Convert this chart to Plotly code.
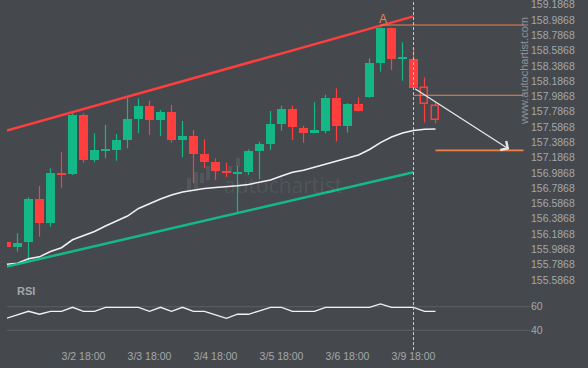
import plotly.graph_objects as go

# ---------------- data ----------------
idx = list(range(40))
opens = [156.083, 156.022, 156.087, 156.645, 156.335, 156.986, 156.976, 157.744, 157.156, 157.286,
         157.286, 157.417, 157.692, 157.862, 157.683, 157.783, 157.417, 157.469, 157.234, 157.133,
         157.014, 156.983, 157.003, 157.273, 157.365, 157.626, 157.823, 157.574, 157.513, 157.535,
         157.970, 157.604, 157.888, 157.976, 158.428, 158.886, 158.479, 158.474, 158.093, 157.866]
highs = [156.090, 156.197, 156.668, 156.815, 157.047, 157.260, 157.774, 157.766, 157.505, 157.613,
         157.496, 157.963, 157.963, 157.931, 157.810, 157.875, 157.666, 157.548, 157.426, 157.178,
         157.120, 157.077, 157.296, 157.395, 157.796, 157.866, 157.866, 157.603, 157.910, 158.011,
         158.093, 157.900, 157.976, 158.486, 158.921, 158.890, 158.695, 158.623, 158.235, 157.905]
lows = [156.022, 155.956, 155.825, 156.152, 156.283, 156.793, 156.959, 157.120, 157.125, 157.178,
        157.146, 157.309, 157.505, 157.483, 157.469, 157.382, 157.191, 156.855, 157.047, 156.894,
        156.933, 156.458, 156.959, 156.903, 157.286, 157.539, 157.417, 157.382, 157.513, 157.505,
        157.398, 157.513, 157.790, 157.967, 158.311, 158.333, 158.193, 158.101, 157.646, 157.636]
closes = [156.022, 156.070, 156.645, 156.335, 156.986, 156.966, 157.744, 157.156, 157.286, 157.302,
          157.417, 157.692, 157.862, 157.683, 157.783, 157.417, 157.469, 157.234, 157.133, 157.014,
          156.992, 156.998, 157.273, 157.365, 157.626, 157.823, 157.591, 157.511, 157.548, 157.970,
          157.604, 157.888, 157.796, 158.422, 158.886, 158.477, 158.492, 158.101, 157.884, 157.685]
hollow = [False] * 38 + [True, True]

ma = [155.791, 155.806, 155.863, 155.889, 155.959, 156.008, 156.112, 156.161, 156.220, 156.292,
      156.360, 156.423, 156.521, 156.587, 156.645, 156.698, 156.737, 156.759, 156.783, 156.796,
      156.805, 156.818, 156.836, 156.861, 156.894, 156.946, 156.995, 157.022, 157.061, 157.097,
      157.133, 157.175, 157.221, 157.293, 157.384, 157.456, 157.509, 157.541, 157.557, 157.561]

rsi = [50.2, 53.1, 56.1, 53.6, 56.1, 56.1, 59.5, 56.1, 56.1, 59.5,
       59.5, 59.5, 59.5, 56.1, 59.5, 56.1, 59.5, 56.1, 56.1, 53.1,
       50.2, 53.6, 53.6, 56.5, 59.5, 59.5, 56.1, 56.1, 56.1, 59.5,
       59.5, 59.5, 59.5, 59.5, 62.3, 59.5, 59.5, 59.5, 56.1, 56.1]

upper_x = [0, 37]
upper_y = [157.539, 159.034]
lower_x = [0, 37]
lower_y = [155.760, 156.995]

level_start = [34, 37, 39]
level_end = [47, 47, 47]
level_price = [158.921, 158.002, 157.282]

arrow_from = (37, 158.101)
arrow_to = (45.7, 157.296)
now_index = 37
pattern_label = ("A", 34.2, 159.0)

price_ticks = [159.1868 - 0.2 * k for k in range(19)]
x_tickvals = [7, 13, 19, 25, 31, 37]
x_ticktext = ["3/2 18:00", "3/3 18:00", "3/4 18:00", "3/5 18:00", "3/6 18:00", "3/9 18:00"]

# ---------------- style ----------------
BG = "#45494e"
GREEN = "#13b886"
RED = "#ff3e3e"
TEXT = "#a3a7ab"
ORANGE = "#f0824a"
FONT = "Liberation Sans, Arial, sans-serif"

fig = go.Figure()

# wicks
for col, cond in ((GREEN, lambda o, c: c >= o), (RED, lambda o, c: c < o)):
    wx, wy = [], []
    for i, o, h, l, c in zip(idx, opens, highs, lows, closes):
        if cond(o, c):
            top, bot = max(o, c), min(o, c)
            wx += [i, i, None, i, i, None]
            wy += [h, top, None, bot, l, None]
    fig.add_trace(go.Scatter(x=wx, y=wy, mode="lines", line=dict(color=col, width=1.2),
                             hoverinfo="skip", showlegend=False))

# bodies
def body(sel):
    xs = [i for i, s in zip(idx, sel) if s]
    base = [min(opens[i], closes[i]) for i in xs]
    hgt = [max(abs(closes[i] - opens[i]), 0.012) for i in xs]
    return xs, base, hgt

g_sel = [c >= o and not h for o, c, h in zip(opens, closes, hollow)]
r_sel = [c < o and not h for o, c, h in zip(opens, closes, hollow)]
x1, b1, h1 = body(g_sel)
fig.add_trace(go.Bar(x=x1, y=h1, base=b1, width=0.79, marker=dict(color=GREEN, line=dict(width=0)),
                     showlegend=False, hoverinfo="skip"))
x2, b2, h2 = body(r_sel)
fig.add_trace(go.Bar(x=x2, y=h2, base=b2, width=0.79, marker=dict(color=RED, line=dict(width=0)),
                     showlegend=False, hoverinfo="skip"))
x3, b3, h3 = body(hollow)
fig.add_trace(go.Bar(x=x3, y=h3, base=b3, width=0.68,
                     marker=dict(color="rgba(0,0,0,0)", line=dict(color=RED, width=1.5)),
                     showlegend=False, hoverinfo="skip"))

# moving average
fig.add_trace(go.Scatter(x=idx, y=ma, mode="lines", line=dict(color="#f2f2f2", width=1.5),
                         hoverinfo="skip", showlegend=False))
# channel
fig.add_trace(go.Scatter(x=upper_x, y=upper_y, mode="lines", line=dict(color=RED, width=2.5),
                         hoverinfo="skip", showlegend=False))
fig.add_trace(go.Scatter(x=lower_x, y=lower_y, mode="lines", line=dict(color="#14b98a", width=2.5),
                         hoverinfo="skip", showlegend=False))
# key levels
for k, (s, e, p) in enumerate(zip(level_start, level_end, level_price)):
    fig.add_trace(go.Scatter(x=[s, e], y=[p, p], mode="lines",
                             line=dict(color=ORANGE, width=1.6 if k == 2 else 1),
                             hoverinfo="skip", showlegend=False))

# RSI
fig.add_trace(go.Scatter(x=idx, y=rsi, mode="lines", line=dict(color="#f2f2f2", width=1.3),
                         xaxis="x", yaxis="y2", hoverinfo="skip", showlegend=False))

shapes = []
for lvl in (40, 60):
    shapes.append(dict(type="line", xref="paper", x0=0, x1=1, yref="y2", y0=lvl, y1=lvl,
                       line=dict(color="#5c6065", width=1), layer="below"))
shapes.append(dict(type="line", xref="x", x0=now_index, x1=now_index, yref="paper", y0=-0.006, y1=1,
                   line=dict(color="#c8cacc", width=1, dash="3px,2px")))
# faint logo bars of watermark
logo = [(187, 191, 178, 190), (194, 198, 172, 190), (200, 204, 173, 183), (206, 210, 166, 180),
        (214, 218, 163, 172), (228, 232, 166, 172), (236, 240, 158, 167)]
for x0, x1_, y0, y1 in logo:
    shapes.append(dict(type="rect", xref="paper", yref="paper",
                       x0=(x0 - 7) / 523, x1=(x1_ - 7) / 523,
                       y0=1 - y1 / 348, y1=1 - y0 / 348,
                       fillcolor="rgba(255,255,255,0.08)", line=dict(width=0), layer="below"))

annotations = [
    dict(x=arrow_to[0], y=arrow_to[1], ax=arrow_from[0], ay=arrow_from[1], axref="x", ayref="y",
         xref="x", yref="y", text="", showarrow=True, arrowhead=4, arrowsize=1.6,
         arrowwidth=1.3, arrowcolor="#e8e8e8", standoff=0, startstandoff=0),
    dict(x=pattern_label[1], y=pattern_label[2], xref="x", yref="y", text=pattern_label[0],
         showarrow=False, font=dict(family=FONT, size=12, color=ORANGE)),
    dict(x=(524 - 7) / 523, y=1 - 71 / 348, xref="paper", yref="paper", text="www.autochartist.com",
         xanchor="center", yanchor="middle",
         textangle=-90, showarrow=False, font=dict(family=FONT, size=11, color="#8e9297")),
    dict(x=(283 - 7) / 523, y=1 - 185 / 348, xref="paper", yref="paper", text="autochartist",
         xanchor="center", yanchor="middle",
         showarrow=False, font=dict(family="Open Sans, sans-serif", size=21, color="rgba(255,255,255,0.08)")),
    dict(x=(15 - 7) / 523, y=1 - 291 / 348, xref="paper", yref="paper", text="<b>RSI</b>",
         xanchor="left", yanchor="middle", showarrow=False, font=dict(family=FONT, size=11, color=TEXT)),
]

fig.update_layout(
    width=588, height=368,
    margin=dict(l=7, r=58, t=0, b=20, autoexpand=False),
    paper_bgcolor=BG, plot_bgcolor=BG,
    barmode="overlay", bargap=0,
    showlegend=False,
    font=dict(family=FONT, size=10.5, color=TEXT),
    xaxis=dict(range=[0.0455, 47.59], showgrid=False, zeroline=False, showline=False,
               tickvals=x_tickvals, ticktext=x_ticktext, ticks="", anchor="y2", automargin=False,
               ticklabeloverflow="allow",
               tickfont=dict(family=FONT, size=10.5, color=TEXT)),
    yaxis=dict(domain=[0.18103, 1], range=[155.5204, 159.2483], side="right", automargin=False,
               tickvals=price_ticks, ticktext=["%.4f" % v for v in price_ticks],
               showgrid=False, zeroline=False, showline=False, ticks="",
               ticklabeloverflow="allow",
               tickfont=dict(family=FONT, size=10.5, color=TEXT)),
    yaxis2=dict(domain=[0, 0.16667], range=[25.0, 74.15], side="right", tickvals=[40, 60],
                showgrid=False, zeroline=False, showline=False, ticks="", automargin=False,
                ticklabeloverflow="allow",
                tickfont=dict(family=FONT, size=10.5, color=TEXT)),
    shapes=shapes,
    annotations=annotations,
)

fig.write_html("out.html", config={"displayModeBar": False},
               post_script="document.body.style.margin='0px';")
